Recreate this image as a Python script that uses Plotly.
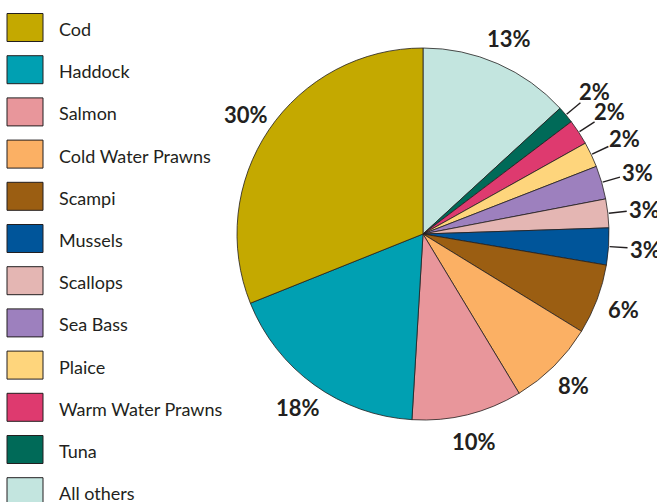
import math
import plotly.graph_objects as go

# ---------------- data ----------------
species = ["Cod", "Haddock", "Salmon", "Cold Water Prawns", "Scampi", "Mussels",
           "Scallops", "Sea Bass", "Plaice", "Warm Water Prawns", "Tuna", "All others"]
shares = [31.1, 18.0, 9.6, 7.6, 6.1, 3.2, 2.5, 2.9, 2.2, 2.2, 1.5, 13.2]
pct_labels = ["30%", "18%", "10%", "8%", "6%", "3%", "3%", "3%", "2%", "2%", "2%", "13%"]
colors = ["#C4A900", "#00A0B2", "#E8969B", "#FBB064", "#9B5E12", "#00559A",
          "#E4B6B3", "#9D80BE", "#FED57C", "#DE3A6F", "#006A58", "#C3E5DF"]

# ---------------- layout geometry ----------------
W, H = 657, 502
CX, CY, R = 423, 234, 186          # pie centre / radius in pixels (from top-left)
INK = "#231f20"
FONT = "Lato, 'Open Sans', sans-serif"


def px(x):
    return x / W


def py(y):
    return 1 - y / H


# Slices run counter-clockwise from 12 o'clock starting with Cod, which is the
# same as clockwise from 12 o'clock starting with the last category.
fig = go.Figure()
fig.add_trace(go.Pie(
    labels=species[::-1],
    values=shares[::-1],
    sort=False,
    direction="clockwise",
    rotation=0,
    textinfo="none",
    hoverinfo="label+percent",
    showlegend=False,
    marker=dict(colors=colors[::-1], line=dict(color=INK, width=0.8)),
    domain=dict(x=[px(CX - R), px(CX + R)], y=[py(CY + R), py(CY - R)]),
))

annotations = []
shapes = []

# percentage labels around the pie, computed from the slice mid-angles
total = sum(shares)
cum = 0.0
for val, txt in zip(shares, pct_labels):
    mid = (cum + val / 2) / total
    cum += val
    th = 2 * math.pi * mid
    ux, uy = -math.sin(th), -math.cos(th)   # screen direction (y down), CCW from top
    if val < 4:
        r0, r1, rt = R + 1, R + 19, R + 37
        shapes.append(dict(type="line", xref="paper", yref="paper",
                           x0=px(CX + ux * r0), y0=py(CY + uy * r0),
                           x1=px(CX + ux * r1), y1=py(CY + uy * r1),
                           line=dict(color=INK, width=1.4)))
    else:
        rt = R + 28
    annotations.append(dict(
        x=px(CX + ux * rt), y=py(CY + uy * rt), xref="paper", yref="paper",
        text=f"<b>{txt}</b>", showarrow=False, xanchor="center", yanchor="middle",
        font=dict(family=FONT, size=22, color=INK)))

# legend (drawn manually: large swatches)
LEG_TOP, LEG_STEP = 27.5, 42.2
for i, (name, col) in enumerate(zip(species, colors)):
    yc = LEG_TOP + i * LEG_STEP
    shapes.append(dict(type="rect", xref="paper", yref="paper",
                       x0=px(7), x1=px(43), y0=py(yc + 14), y1=py(yc - 14),
                       fillcolor=col, line=dict(color=INK, width=1)))
    annotations.append(dict(
        x=px(57), y=py(yc + 1.5), xref="paper", yref="paper", text=name,
        showarrow=False, xanchor="left", yanchor="middle",
        font=dict(family=FONT, size=18, color=INK)))

fig.update_layout(
    width=W, height=H,
    margin=dict(l=0, r=0, t=0, b=0),
    paper_bgcolor="white", plot_bgcolor="white",
    shapes=shapes, annotations=annotations,
)

fig.write_html("out.html")
